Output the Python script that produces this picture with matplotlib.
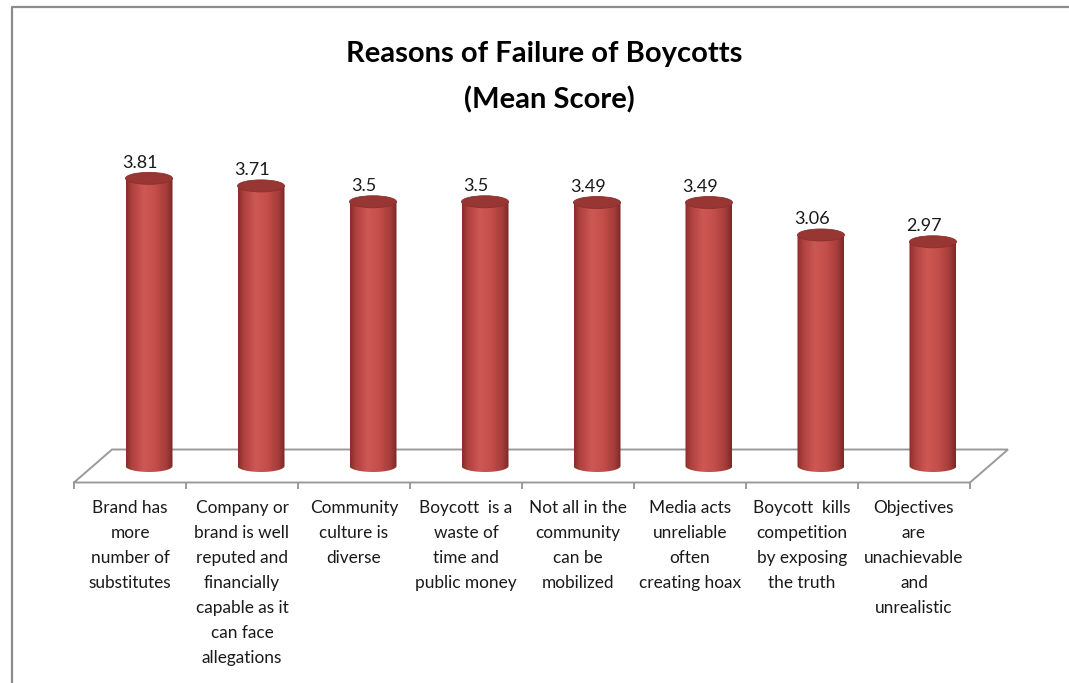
import numpy as np
import matplotlib
matplotlib.use("Agg")
import matplotlib.pyplot as plt
from matplotlib.patches import Ellipse, PathPatch
from matplotlib.path import Path
from matplotlib.colors import LinearSegmentedColormap
from matplotlib.lines import Line2D

# data
reasons = [
    "Brand has\nmore\nnumber of\nsubstitutes",
    "Company or\nbrand is well\nreputed and\nfinancially\ncapable as it\ncan face\nallegations",
    "Community\nculture is\ndiverse",
    "Boycott  is a\nwaste of\ntime and\npublic money",
    "Not all in the\ncommunity\ncan be\nmobilized",
    "Media acts\nunreliable\noften\ncreating hoax",
    "Boycott  kills\ncompetition\nby exposing\nthe truth",
    "Objectives\nare\nunachievable\nand\nunrealistic",
]
mean_score = [3.81, 3.71, 3.5, 3.5, 3.49, 3.49, 3.06, 2.97]
value_labels = ["3.81", "3.71", "3.5", "3.5", "3.49", "3.49", "3.06", "2.97"]
title = "Reasons of Failure of Boycotts\n(Mean Score)"

plt.rcParams['font.family'] = ['Lato', 'DejaVu Sans']

W, H = 1069, 683
XS, YS = 112.0, 75.5      # px per category, px per unit
X0, Y0 = 130.0, 466.0     # pixel of category 0 / value 0

fig = plt.figure(figsize=(W / 100, H / 100), dpi=100)
ax = fig.add_axes([0, 0, 1, 1])
ax.axis('off')

# depth of the 3d floor and cylinder size (data units)
DX, DY = 38 / XS, 33 / YS
hw = 23.5 / XS
eh = 12 / YS
n = len(mean_score)

# floor
grey = "#9a9a9a"
fy, by = -DY / 2, DY / 2
floor_x = [-0.5, n - 0.5, n - 0.5 + DX, -0.5 + DX, -0.5]
floor_y = [fy, fy, by, by, fy]
ax.plot(floor_x, floor_y, color=grey, lw=1.4, zorder=1, solid_joinstyle='miter')
for k in range(n + 1):
    ax.plot([k - 0.5, k - 0.5], [fy, fy - 5 / YS], color=grey, lw=1.4, zorder=1)

# cylinder shading
cmap = LinearSegmentedColormap.from_list("cyl", [
    (0.0, "#862d2a"), (0.12, "#ad403d"), (0.38, "#cd5854"),
    (0.62, "#c44e4a"), (0.86, "#a53d3a"), (1.0, "#7a2826")])
grad = np.linspace(0, 1, 256).reshape(1, -1)

t = np.linspace(np.pi, 2 * np.pi, 60)
for i, v in enumerate(mean_score):
    cx = i + DX / 2
    xs = np.concatenate([[cx - hw], cx + hw * np.cos(t), [cx + hw]])
    ys = np.concatenate([[v], eh / 2 * np.sin(t), [v]])
    verts = np.column_stack([xs, ys])
    verts = np.vstack([verts, verts[:1]])
    codes = [Path.MOVETO] + [Path.LINETO] * (len(verts) - 2) + [Path.CLOSEPOLY]
    body = PathPatch(Path(verts, codes), facecolor='none', edgecolor='none',
                     transform=ax.transData)
    ax.add_patch(body)
    im = ax.imshow(grad, cmap=cmap, aspect='auto', interpolation='bilinear',
                   extent=[cx - hw, cx + hw, -eh / 2, v], zorder=2)
    im.set_clip_path(body)
    ax.add_patch(Ellipse((cx, v), 2 * hw, eh, facecolor="#973633",
                         edgecolor="#8a302d", lw=0.6, zorder=3))
    ax.text(cx - 9 / XS, v + 10.5 / YS, value_labels[i], ha='center',
            va='baseline', fontsize=13, color="#1a1a1a")

# category labels
for i, lab in enumerate(reasons):
    for k, line in enumerate(lab.split("\n")):
        ax.text(i, (Y0 - 513 - 25 * k) / YS, line, ha='center', va='baseline',
                fontsize=12.4, color="#1a1a1a")

# title
t1, t2 = title.split("\n")
ax.text((544 - X0) / XS, (Y0 - 62) / YS, t1, ha='center', va='baseline',
        fontsize=21, fontweight='bold', color='black')
ax.text((549 - X0) / XS, (Y0 - 108) / YS, t2, ha='center', va='baseline',
        fontsize=21, fontweight='bold', color='black')

ax.set_xlim(-X0 / XS, (W - X0) / XS)
ax.set_ylim((Y0 - H) / YS, Y0 / YS)

# chart border (only left and top are inside the picture)
fig.add_artist(Line2D([12 / W, 12 / W, 1], [0, 1 - 7 / H, 1 - 7 / H],
                      transform=fig.transFigure, color="#8c8c8c", lw=1.6))

fig.savefig("out.png", dpi=100)
